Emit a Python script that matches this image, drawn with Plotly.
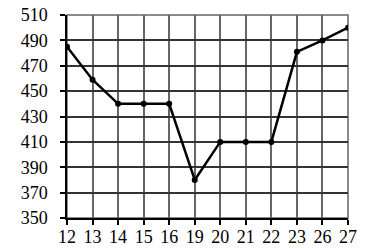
import plotly.graph_objects as go

days = ["12", "13", "14", "15", "16", "19", "20", "21", "22", "23", "26", "27"]
values = [485, 459, 440, 440, 440, 380, 410, 410, 410, 481, 490, 500]
y_ticks = [350, 370, 390, 410, 430, 450, 470, 490, 510]

xs = list(range(len(days)))

fig = go.Figure()
fig.add_trace(go.Scatter(
    x=xs, y=values, mode="lines+markers",
    line=dict(color="black", width=2.5),
    marker=dict(color="black", size=6),
    showlegend=False,
))

fig.update_layout(
    width=373, height=249,
    margin=dict(l=67, r=25, t=15, b=31),
    paper_bgcolor="white", plot_bgcolor="white",
    font=dict(family="Liberation Serif, Times New Roman, serif", size=18, color="black"),
)
fig.update_xaxes(
    range=[0, len(days) - 1], tickvals=xs, ticktext=days,
    showgrid=True, gridcolor="#666666", gridwidth=1.5,
    showline=True, linecolor="black", linewidth=1.5, mirror=False,
    ticks="outside", ticklen=5, tickcolor="black", tickwidth=1.5,
    ticklabelstandoff=-3, automargin=False,
    zeroline=False,
)
fig.update_yaxes(
    range=[350, 510], tickvals=y_ticks,
    showgrid=True, gridcolor="#333333", gridwidth=1.5,
    showline=True, linecolor="black", linewidth=1.5,
    ticks="outside", ticklen=5, tickcolor="black", tickwidth=1.5,
    ticklabelstandoff=9, automargin=False,
    zeroline=False,
)
fig.add_shape(type="rect", xref="paper", yref="paper", x0=0, y0=0, x1=1, y1=1,
              line=dict(color="#666666", width=1.5), layer="below")

fig.write_html("out.html")
